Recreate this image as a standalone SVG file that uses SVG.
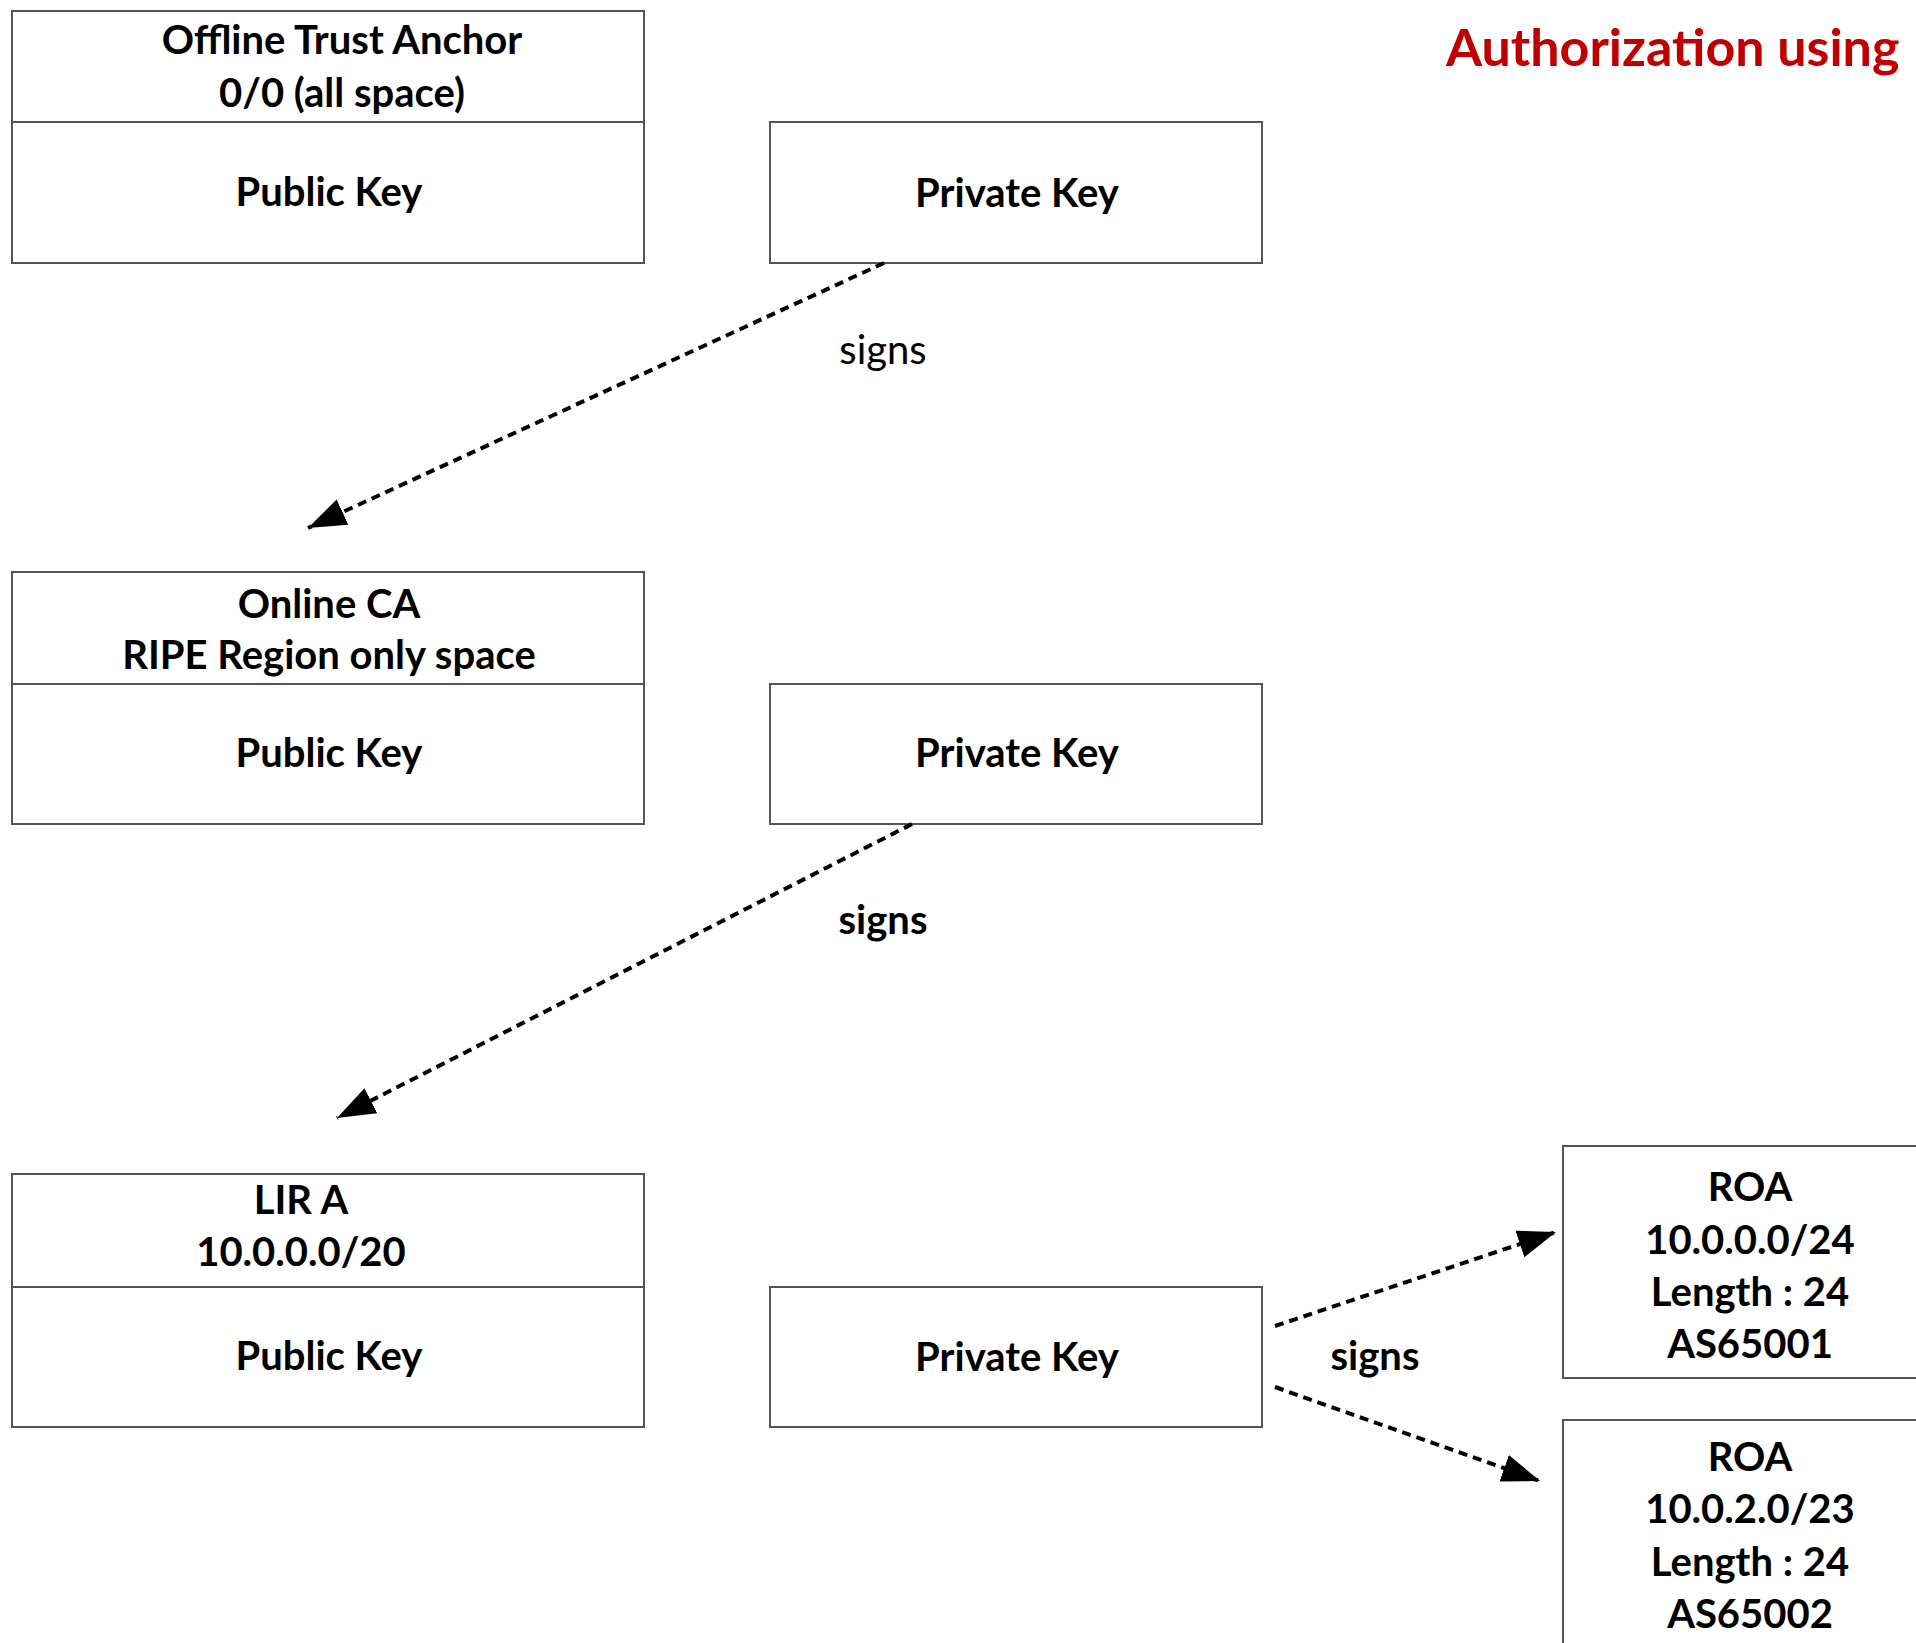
<svg xmlns="http://www.w3.org/2000/svg" width="1916" height="1643" viewBox="0 0 1916 1643">
  <style>
    .box { fill: #ffffff; stroke: #555555; stroke-width: 2; }
    .lbl { font-family: Lato, "Liberation Sans", sans-serif; font-weight: bold; font-size: 40px; fill: #000000; text-anchor: middle; }
    .sig { font-family: Lato, "Liberation Sans", sans-serif; font-size: 40px; fill: #000000; text-anchor: middle; }
    .title { font-family: Lato, "Liberation Sans", sans-serif; font-weight: bold; font-size: 52px; fill: #c00000; }
    .edge { fill: none; stroke: #000000; stroke-width: 4; stroke-dasharray: 9 6; }
  </style>
  <defs>
    <marker id="arrow" markerUnits="userSpaceOnUse" markerWidth="40" markerHeight="30" refX="38" refY="14" orient="auto">
      <path d="M0,0 L38,14 L0,28 Z" fill="#000000"/>
    </marker>
  </defs>

  <rect width="1916" height="1643" fill="#ffffff"/>

  <text class="title" x="1446" y="66">Authorization using</text>

  <!-- Offline trust anchor -->
  <g id="trust-anchor">
    <rect class="box" x="12" y="11" width="632" height="252"/>
    <line class="box" x1="12" y1="122" x2="644" y2="122"/>
    <text class="lbl" x="342" y="54">Offline Trust Anchor</text>
    <text class="lbl" x="342" y="107">0/0 (all space)</text>
    <text class="lbl" x="329" y="206">Public Key</text>
  </g>
  <g id="trust-anchor-private">
    <rect class="box" x="770" y="122" width="492" height="141"/>
    <text class="lbl" x="1017" y="207">Private Key</text>
  </g>

  <!-- Online CA -->
  <g id="online-ca">
    <rect class="box" x="12" y="572" width="632" height="252"/>
    <line class="box" x1="12" y1="684" x2="644" y2="684"/>
    <text class="lbl" x="329" y="618">Online CA</text>
    <text class="lbl" x="329" y="669">RIPE Region only space</text>
    <text class="lbl" x="329" y="767">Public Key</text>
  </g>
  <g id="online-ca-private">
    <rect class="box" x="770" y="684" width="492" height="140"/>
    <text class="lbl" x="1017" y="767">Private Key</text>
  </g>

  <!-- LIR A -->
  <g id="lir-a">
    <rect class="box" x="12" y="1174" width="632" height="253"/>
    <line class="box" x1="12" y1="1287" x2="644" y2="1287"/>
    <text class="lbl" x="301" y="1214">LIR A</text>
    <text class="lbl" x="301" y="1266">10.0.0.0/20</text>
    <text class="lbl" x="329" y="1370">Public Key</text>
  </g>
  <g id="lir-a-private">
    <rect class="box" x="770" y="1287" width="492" height="140"/>
    <text class="lbl" x="1017" y="1371">Private Key</text>
  </g>

  <!-- ROAs -->
  <g id="roa-1">
    <rect class="box" x="1563" y="1146" width="370" height="232"/>
    <text class="lbl" x="1750" y="1201">ROA</text>
    <text class="lbl" x="1750" y="1254">10.0.0.0/24</text>
    <text class="lbl" x="1750" y="1306">Length : 24</text>
    <text class="lbl" x="1750" y="1358">AS65001</text>
  </g>
  <g id="roa-2">
    <rect class="box" x="1563" y="1420" width="370" height="240"/>
    <text class="lbl" x="1750" y="1471">ROA</text>
    <text class="lbl" x="1750" y="1523">10.0.2.0/23</text>
    <text class="lbl" x="1750" y="1576">Length : 24</text>
    <text class="lbl" x="1750" y="1628">AS65002</text>
  </g>

  <!-- signing relations -->
  <g id="connectors">
    <path class="edge" d="M884,263 L308,528" marker-end="url(#arrow)"/>
    <text class="sig" x="883" y="364">signs</text>
    <path class="edge" d="M912,824 L337,1118" marker-end="url(#arrow)"/>
    <text class="lbl" x="883" y="934">signs</text>
    <path class="edge" d="M1275,1326 L1556,1232" marker-end="url(#arrow)"/>
    <path class="edge" d="M1275,1387 L1540,1481" marker-end="url(#arrow)"/>
    <text class="lbl" x="1375" y="1370">signs</text>
  </g>
</svg>
